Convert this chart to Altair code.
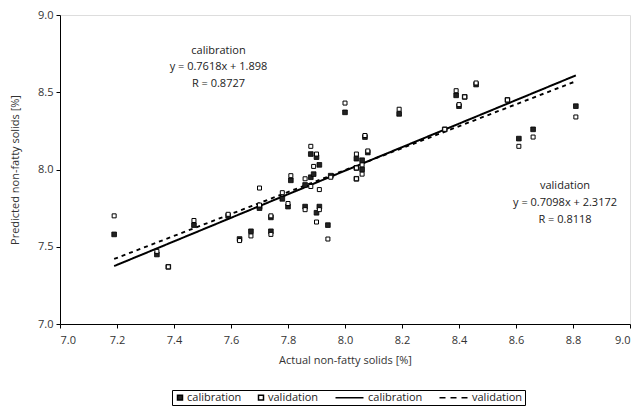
import altair as alt
import pandas as pd

# sample values (actual x, predicted by calibration model, predicted by validation model)
actual = [7.19, 7.34, 7.38, 7.47, 7.59, 7.63, 7.67, 7.70, 7.70, 7.74, 7.74, 7.78, 7.80, 7.81,
          7.86, 7.86, 7.88, 7.88, 7.89, 7.90, 7.90, 7.91, 7.91, 7.94, 7.95, 8.00, 8.04, 8.04,
          8.04, 8.06, 8.06, 8.07, 8.08, 8.19, 8.35, 8.39, 8.40, 8.42, 8.46, 8.57, 8.61, 8.66, 8.81]
pred_cal = [7.58, 7.45, 7.37, 7.64, 7.70, 7.55, 7.60, 7.76, 7.75, 7.60, 7.69, 7.81, 7.76, 7.93,
            7.90, 7.76, 8.10, 7.95, 7.97, 8.08, 7.72, 7.76, 8.03, 7.64, 7.96, 8.37, 8.07, 8.01,
            7.94, 8.06, 8.00, 8.21, 8.11, 8.36, 8.26, 8.48, 8.41, 8.47, 8.55, 8.45, 8.20, 8.26, 8.41]
pred_val = [7.70, 7.47, 7.37, 7.67, 7.71, 7.54, 7.57, 7.88, 7.77, 7.58, 7.70, 7.85, 7.78, 7.96,
            7.94, 7.74, 8.15, 7.89, 8.02, 8.10, 7.66, 7.74, 7.87, 7.55, 7.95, 8.43, 8.10, 7.94,
            8.01, 8.03, 7.97, 8.22, 8.12, 8.39, 8.26, 8.51, 8.42, 8.47, 8.56, 8.45, 8.15, 8.21, 8.34]

# trend line end points
cal_line_x = [7.19, 8.81]
cal_line_y = [7.375, 8.609]
val_line_x = [7.19, 8.81]
val_line_y = [7.421, 8.571]

legend_keys = ["1calibration", "2validation", "3calibration", "4validation"]

cal_text = ["calibration", "y = 0.7618x + 1.898", "R = 0.8727"]
val_text = ["validation", "y = 0.7098x + 2.3172", "R = 0.8118"]

FONT = "Open Sans"

pts = pd.DataFrame(
    [{"x": a, "y": c, "s": "calibration"} for a, c in zip(actual, pred_cal)]
    + [{"x": a, "y": v, "s": "validation"} for a, v in zip(actual, pred_val)]
)
lines = pd.DataFrame(
    [{"x": a, "y": b, "s": "calibration"} for a, b in zip(cal_line_x, cal_line_y)]
    + [{"x": a, "y": b, "s": "validation"} for a, b in zip(val_line_x, val_line_y)]
)
leg = pd.DataFrame({"key": legend_keys, "x": [actual[0]] * 4, "y": [pred_cal[0]] * 4})
txt = pd.DataFrame({
    "t": cal_text + val_text,
    "x": [7.556] * 3 + [8.772] * 3,
    "y": [8.77, 8.665, 8.555, 7.895, 7.785, 7.675],
})

xs = alt.Scale(domain=[7.0, 9.0], nice=False, zero=False)
ys = alt.Scale(domain=[7.0, 9.0], nice=False, zero=False)

xenc = alt.X("x:Q", scale=xs, axis=alt.Axis(
    title="Actual non-fatty solids [%]", values=[7.0, 7.2, 7.4, 7.6, 7.8, 8.0, 8.2, 8.4, 8.6, 8.8, 9.0],
    format=".1f", grid=False, domainColor="black", tickColor="black", tickSize=4,
    labelFont=FONT, labelFontSize=11, labelColor="#333", labelPadding=6,
    titleFont=FONT, titleFontSize=11, titleFontWeight="normal", titleColor="#333", titlePadding=9))
yenc = alt.Y("y:Q", scale=ys, axis=alt.Axis(
    title="Predicted non-fatty solids [%]", values=[7.0, 7.5, 8.0, 8.5, 9.0],
    format=".1f", grid=False, domainColor="black", tickColor="black", tickSize=4,
    labelFont=FONT, labelFontSize=11, labelColor="#333", labelPadding=3,
    titleFont=FONT, titleFontSize=11, titleFontWeight="normal", titleColor="#333", titlePadding=17))

line_layer = alt.Chart(lines).mark_line(color="black").encode(
    x=xenc, y=yenc, detail="s:N",
    strokeWidth=alt.StrokeWidth("s:N", scale=alt.Scale(domain=["calibration", "validation"], range=[2, 1.5]), legend=None),
    strokeDash=alt.StrokeDash("s:N", scale=alt.Scale(domain=["calibration", "validation"], range=[[1, 0], [4, 4]]), legend=None),
)

cal_pts = alt.Chart(pts).transform_filter("datum.s == 'calibration'").mark_square(
    size=22, color="#222", stroke="black", strokeWidth=0.8, opacity=1).encode(x="x:Q", y="y:Q")
val_pts = alt.Chart(pts).transform_filter("datum.s == 'validation'").mark_square(
    size=16, fill="white", stroke="black", strokeWidth=1, filled=True, opacity=1).encode(x="x:Q", y="y:Q")

# legend symbol shapes (unit space, 1 unit = 4 px with symbolSize 64)
sq = "M-0.5,-0.6H0.75V0.6H-0.5Z"
solid = "M-6.25,0H0.75"
dash = "M-6.25,0H-4.75M-3.5,0H-2M-0.75,0H0.75"
leg_common = dict(
    title=None, orient="none", legendX=112, legendY=375, direction="horizontal", columns=4,
    strokeColor="black", padding=2, columnPadding=13, symbolSize=64,
    labelFont=FONT, labelFontSize=11, labelColor="#222", labelOffset=2,
    labelExpr="slice(datum.label, 1)", symbolOpacity=1,
    fillColor="white",
)
legend_layer = alt.Chart(leg).mark_point(opacity=0, filled=False).encode(
    x="x:Q", y="y:Q",
    shape=alt.Shape("key:N", scale=alt.Scale(domain=legend_keys, range=[sq, sq, solid, dash]), legend=alt.Legend(**leg_common)),
    fill=alt.Fill("key:N", scale=alt.Scale(domain=legend_keys, range=["#222", "white", "black", "black"]), legend=alt.Legend(**leg_common)),
    stroke=alt.Stroke("key:N", scale=alt.Scale(domain=legend_keys, range=["black", "black", "black", "black"]), legend=alt.Legend(**leg_common)),
    strokeWidth=alt.StrokeWidth("key:N", scale=alt.Scale(domain=legend_keys, range=[0.8, 1, 2, 1.5]), legend=alt.Legend(**leg_common)),
)

text_layer = alt.Chart(txt).mark_text(font=FONT, fontSize=11, color="#222").encode(
    x="x:Q", y="y:Q", text="t:N")

chart = alt.layer(line_layer, cal_pts, val_pts, legend_layer, text_layer).properties(
    width=570, height=309,
    padding={"left": 60, "top": 15, "right": 10, "bottom": 82},
    autosize=alt.AutoSizeParams(type="none"),
).configure_view(stroke=None).configure(background="white")

chart.save("out.html", embed_options={"renderer": "svg", "actions": False})
